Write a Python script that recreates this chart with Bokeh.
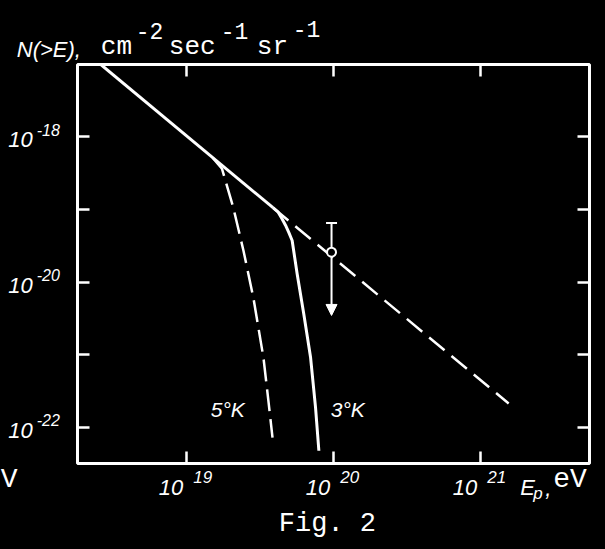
from bokeh.plotting import figure
from bokeh.models import (Range1d, LogAxis, FixedTicker, CustomJSTickFormatter,
                          Arrow, NormalHead)
from bokeh.core.properties import value
from bokeh.embed import file_html
from bokeh.resources import INLINE

# ---------------- data ----------------
# power-law integral spectrum N(>E) (cm^-2 s^-1 sr^-1) vs E (eV)
law_solid_E = [2.61e18, 3.89e19]
law_solid_N = [9.84e-18, 1.05e-19]
law_dash_E = [3.89e19, 1.56e21]
law_dash_N = [1.05e-19, 2.14e-22]

# cut-off for 5 K background radiation (dashed)
k5_E = [1.51e19, 1.75e19, 2.09e19, 2.45e19, 2.86e19, 3.35e19, 3.62e19, 3.86e19]
k5_N = [5.13e-19, 3.60e-19, 1.05e-19, 2.69e-20, 6.08e-21, 9.10e-22, 2.33e-22, 7.24e-23]

# cut-off for 3 K background radiation (solid)
k3_E = [3.89e19, 4.22e19, 4.49e19, 4.73e19, 4.98e19, 5.25e19, 5.68e19, 6.30e19,
        7.00e19, 7.57e19, 7.98e19]
k3_N = [1.05e-19, 9.12e-20, 7.35e-20, 6.03e-20, 4.81e-20, 3.72e-20, 1.29e-20, 3.63e-21,
        9.33e-22, 1.91e-22, 4.79e-23]

# measured point with upper error bar and upper-limit arrow
pt_E = [9.73e19]
pt_N = [2.57e-20]
pt_upper = [6.46e-20]
pt_limit = [3.47e-21]

x_ticks = [1e19, 1e20, 1e21]
x_tick_exp = ["19", "20", "21"]
y_ticks = [1e-18, 1e-19, 1e-20, 1e-21, 1e-22]
y_label_vals = [1e-18, 1e-20, 1e-22]
y_label_exp = ["-18", "-20", "-22"]

# ---------------- figure ----------------
FG = "white"
ITAL = "Liberation Sans"
MONO = "Liberation Mono"

X0, X1 = 10 ** 18.26, 10 ** 21.743
Y0, Y1 = 10 ** -22.495, 10 ** -17.01

p = figure(width=605, height=549, x_axis_type="log", y_axis_type="log",
           x_range=Range1d(X0, X1), y_range=Range1d(Y0, Y1),
           output_backend="svg", toolbar_location=None,
           min_border_left=77, min_border_right=16, min_border_top=64, min_border_bottom=86,
           background_fill_color="black", border_fill_color="black",
           outline_line_color=FG, outline_line_width=3)
p.xgrid.grid_line_color = None
p.ygrid.grid_line_color = None

def style_axis(ax, ticks):
    ax.ticker = FixedTicker(ticks=ticks, minor_ticks=[])
    ax.formatter = CustomJSTickFormatter(code="return ''")
    ax.major_label_standoff = 0
    ax.major_label_text_font_size = "1px"
    ax.axis_line_color = None
    ax.major_tick_in = 12
    ax.major_tick_out = 0
    ax.minor_tick_in = 0
    ax.minor_tick_out = 0
    ax.major_tick_line_color = FG
    ax.major_tick_line_width = 2.5

style_axis(p.xaxis[0], x_ticks)
style_axis(p.yaxis[0], y_ticks)
top_ax = LogAxis()
style_axis(top_ax, x_ticks)
p.add_layout(top_ax, "above")
right_ax = LogAxis()
style_axis(right_ax, y_ticks)
p.add_layout(right_ax, "right")

# curves
p.line(law_solid_E, law_solid_N, line_color=FG, line_width=3)
p.line(law_dash_E, law_dash_N, line_color=FG, line_width=2.5, line_dash="20 9")
p.line(k5_E, k5_N, line_color=FG, line_width=2.5, line_dash="22 8")
p.line(k3_E, k3_N, line_color=FG, line_width=3, line_join="round")

# data point
arrow = Arrow(x_start=pt_E[0], y_start=pt_N[0], x_end=pt_E[0], y_end=pt_limit[0],
              line_color=FG, line_width=2,
              end=NormalHead(size=11, fill_color=FG, line_color=FG, line_width=1),
              level="underlay")
p.add_layout(arrow)
p.segment(x0=pt_E, y0=pt_N, x1=pt_E, y1=pt_upper, line_color=FG, line_width=2)
p.scatter(pt_E, pt_upper, marker="dash", size=11, line_color=FG, line_width=2)
p.scatter(pt_E, pt_N, marker="circle", size=9, fill_color="black", line_color=FG, line_width=2)

# ---------------- texts ----------------
# anchors just inside the frame edges, texts shifted out by pixel offsets
AL = 10 ** 18.262
AR = 10 ** 21.741
AB = 10 ** -22.493
AT = 10 ** -17.012

def txt(text, x, y, xo, yo, font, size, align="left", style="italic"):
    # yo is the wanted baseline offset; the glyph renders a little low, so lift it
    lift = round(0.27 * size)
    p.text(x=[x], y=[y], text=[text], x_offset=xo, y_offset=yo - lift,
           text_font=value(font), text_font_size=value(f"{size}px"), text_font_style=style,
           text_color=FG, text_align=align, text_baseline="alphabetic", level="overlay")

# y tick labels
for v, e in zip(y_label_vals, y_label_exp):
    txt("10", AL, v, -45, 9, ITAL, 22, align="right")
    txt(e, AL, v, -41, -3, ITAL, 16)

# x tick labels
for v, e in zip(x_ticks, x_tick_exp):
    txt("10", v, AB, -3, 30, ITAL, 22, align="right")
    txt(e, v, AB, 7, 19, ITAL, 17)

# axis titles
txt("N(>E),", AL, AT, -61, -9, ITAL, 22)
txt("cm", AL, AT, 23, -11, MONO, 26, style="normal")
txt("-2", AL, AT, 58, -28, MONO, 23, style="normal")
txt("sec", AL, AT, 91, -11, MONO, 26, style="normal")
txt("-1", AL, AT, 143, -28, MONO, 23, style="normal")
txt("sr", AL, AT, 179, -11, MONO, 26, style="normal")
txt("-1", AL, AT, 215, -30, MONO, 23, style="normal")

txt("E", AR, AB, -69, 30, ITAL, 22)
txt("p", AR, AB, -56, 35, ITAL, 17)
txt(",", AR, AB, -44, 31, ITAL, 22)
txt("eV", AR, AB, -36, 24, MONO, 28, style="normal")

# curve labels
txt("5°K", AL, AB, 133, -48, ITAL, 21)
txt("3°K", AL, AB, 253, -48, ITAL, 21)

# caption and stray letter
txt("Fig. 2", AL, AB, 201, 68, MONO, 27, style="normal")
txt("V", AL, AB, -77, 24, MONO, 28, style="normal")

html = file_html(p, INLINE)
css = "<style>html,body{background:#000;overflow:hidden}</style>"
if "<head>" in html:
    html = html.replace("<head>", "<head>" + css, 1)
else:
    html = html.replace("</head>", css + "</head>", 1)
open("out.html", "w").write(html)
